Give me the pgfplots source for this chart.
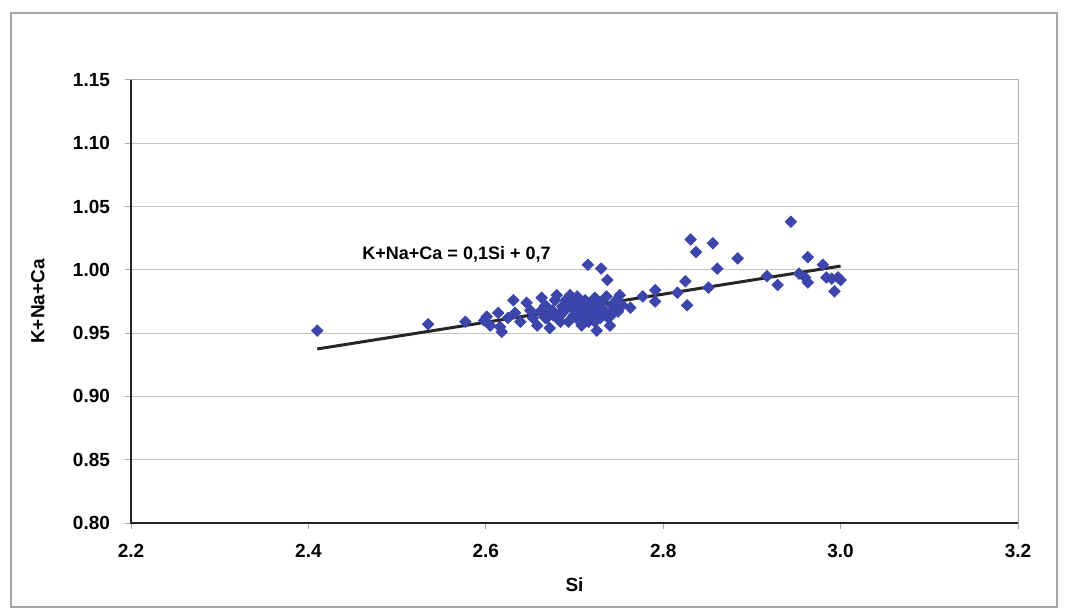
\documentclass[border=0pt]{standalone}
\usepackage{pgfplots}
\pgfplotsset{compat=1.18}
\usepackage{fontspec}
\setmainfont{Liberation Sans}
\definecolor{ptblue}{RGB}{60,70,170}
\begin{document}
\begin{tikzpicture}
\path[use as bounding box] (0,0) rectangle (534bp,306bp);
\draw[gray!70, line width=0.6bp] (5.5bp,2.5bp) rectangle (528.5bp,299.5bp);
\begin{axis}[
  at={(65.5bp,44.5bp)}, anchor=south west,
  scale only axis, width=443.5bp, height=221.5bp,
  xmin=2.2, xmax=3.2, ymin=0.80, ymax=1.15,
  xtick={2.2,2.4,2.6,2.8,3.0,3.2},
  ytick={0.80,0.85,0.90,0.95,1.00,1.05,1.10,1.15},
  xticklabel style={yshift=-4bp, /pgf/number format/.cd, fixed, fixed zerofill, precision=1, assume math mode=true},
  yticklabel style={xshift=-4bp, /pgf/number format/.cd, fixed, fixed zerofill, precision=2, assume math mode=true},
  ticklabel style={font=\fontsize{9.5bp}{11bp}\selectfont\bfseries},
  tick align=outside, major tick length=3bp,
  tick style={gray!70, line width=0.5bp},
  xtick pos=bottom, ytick pos=left,
  ymajorgrids, grid style={gray!45, line width=0.5bp},
  axis line style={gray!60, line width=0.5bp},
  xlabel={Si}, ylabel={K+Na+Ca},
  label style={font=\fontsize{9.5bp}{11bp}\selectfont\bfseries},
  xlabel style={at={(axis description cs:0.5,-0.14)}, anchor=center},
  ylabel style={at={(axis description cs:-0.105,0.5)}, anchor=center},
  clip=false,
]
\draw[black!85, line width=0.7bp] (axis cs:2.2,1.15) -- (axis cs:2.2,0.8) -- (axis cs:3.2,0.8);
\addplot[only marks, mark=diamond*, mark size=2.85bp, color=ptblue, mark options={xscale=1.333, fill=ptblue, draw=ptblue}] coordinates {
(2.410,0.952) (2.535,0.957) (2.577,0.959) (2.598,0.960) (2.601,0.963)
(2.605,0.956) (2.614,0.966) (2.616,0.955) (2.618,0.951) (2.625,0.962)
(2.631,0.976) (2.633,0.966) (2.639,0.959) (2.646,0.974) (2.650,0.968)
(2.653,0.962) (2.658,0.956) (2.661,0.967) (2.663,0.978) (2.667,0.972)
(2.669,0.962) (2.672,0.954) (2.675,0.968) (2.678,0.976) (2.680,0.980)
(2.681,0.962) (2.684,0.959) (2.686,0.971) (2.688,0.967) (2.690,0.976)
(2.693,0.959) (2.695,0.980) (2.697,0.970) (2.699,0.964) (2.702,0.975)
(2.703,0.979) (2.705,0.960) (2.707,0.968) (2.710,0.972) (2.712,0.976)
(2.713,0.964) (2.715,1.004) (2.716,0.959) (2.718,0.968) (2.720,0.975)
(2.722,0.964) (2.723,0.978) (2.725,0.952) (2.727,0.970) (2.729,0.962)
(2.730,1.001) (2.731,0.975) (2.733,0.968) (2.736,0.979) (2.737,0.992)
(2.738,0.962) (2.740,0.963) (2.742,0.972) (2.745,0.968) (2.747,0.976)
(2.749,0.967) (2.751,0.980) (2.754,0.972) (2.763,0.970) (2.777,0.979)
(2.791,0.984) (2.791,0.975) (2.816,0.982) (2.825,0.991) (2.827,0.972)
(2.831,1.024) (2.837,1.014) (2.851,0.986) (2.856,1.021) (2.861,1.001)
(2.884,1.009) (2.917,0.995) (2.929,0.988) (2.944,1.038) (2.953,0.997)
(2.960,0.994) (2.963,1.010) (2.963,0.990) (2.980,1.004) (2.984,0.994)
(2.990,0.993) (2.993,0.983) (2.997,0.994) (3.000,0.992)
(2.667,0.962) (2.676,0.964) (2.692,0.972) (2.704,0.967) (2.723,0.959)
(2.684,0.964) (2.708,0.956) (2.740,0.956)
};
\addplot[black!85, line width=1.5bp, no marks] coordinates {(2.41,0.9375) (3.0,1.003)};
\node[font=\fontsize{9bp}{11bp}\selectfont\bfseries, anchor=center] at (axis cs:2.567,1.0125) {K+Na+Ca = 0,1Si + 0,7};
\end{axis}
\end{tikzpicture}
\end{document}
